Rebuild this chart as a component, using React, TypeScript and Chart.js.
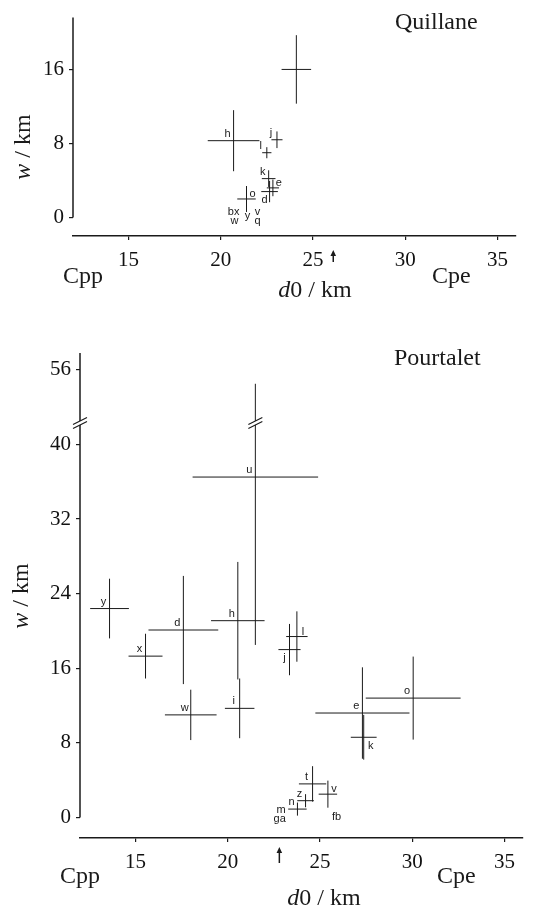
import React, { useEffect, useRef } from 'react';
import { Chart, registerables } from 'chart.js';

Chart.register(...registerables);

// ---------- shared axis data ----------
const X_TICKS = [15, 20, 25, 30, 35];
const X_MIN = 12;
const X_MAX = 36;

// ---------- Quillane ----------
const Q_NAMES = ['', 'h', 'j', 'l', 'k', 'e', 'd', 'o'];
const Q_D0 = [24.1, 20.7, 23.05, 22.5, 22.6, 22.83, 22.65, 21.4];
const Q_D0_ERR = [0.8, 1.4, 0.3, 0.25, 0.37, 0.33, 0.45, 0.5];
const Q_W = [16.0, 8.3, 8.4, 7.0, 4.2, 3.2, 2.8, 2.0];
const Q_W_ERR = [3.7, 3.3, 0.9, 0.6, 0.9, 0.9, 1.15, 1.4];
const Q_ANCHOR = ['nw', 'nw', 'nw', 'nw', 'nw', 'ne', 'sw', 'ne'];
const Q_ZERO_NAMES = ['bx', 'w', 'y', 'v', 'q'];
const Q_ZERO_D0 = [20.7, 20.75, 21.45, 22.0, 22.0];
const Q_ZERO_W = [0.55, -0.4, 0.2, 0.55, -0.4];
const Q_W_TICKS = [0, 8, 16];
const Q_ARROW_D0 = 26.1;

// ---------- Pourtalet ----------
const P_NAMES = ['y', 'x', 'd', 'w', 'h', 'i', 'u', 'j', 'l', 'e', 'k', 'o', 't', 'v', 'z', 'n'];
const P_D0 = [13.6, 15.55, 17.6, 18.0, 20.55, 20.65, 21.5, 23.35, 23.75, 27.3, 27.37, 30.05, 24.6, 25.43, 24.22, 23.78];
const P_D0_ERR = [1.05, 0.92, 1.89, 1.4, 1.45, 0.8, 3.4, 0.6, 0.58, 2.55, 0.7, 2.57, 0.74, 0.5, 0.45, 0.5];
const P_W = [22.4, 17.3, 20.1, 11.0, 21.1, 11.7, 36.5, 18.0, 19.4, 11.2, 8.6, 12.8, 3.6, 2.5, 1.8, 0.9];
const P_W_ERR = [3.2, 2.4, 5.8, 2.7, 6.3, 3.2, 18.0, 2.75, 2.7, 4.9, 2.4, 4.45, 1.9, 1.45, 0.7, 0.7];
const P_ANCHOR = ['nw', 'nw', 'nw', 'nw', 'nw', 'nw', 'nw', 'sw', 'ne', 'nw', 'se', 'nw', 'nw', 'ne', 'nw', 'nw'];
const P_ZERO_NAMES = ['m', 'ga', 'fb'];
const P_ZERO_D0 = [22.9, 22.82, 25.9];
const P_ZERO_W = [0.8, -0.15, 0.1];
const P_W_TICKS = [0, 8, 16, 24, 32, 40, 56];
const P_BREAK_AT = 42.3;
const P_BREAK_SKIP = 8;
const P_ARROW_D0 = 22.8;

const SERIF = '"Liberation Serif", "DejaVu Serif", serif';
const SANS = '"Liberation Sans", "DejaVu Sans", sans-serif';
const INK = '#1a1a1a';

const ANCHOR_OFFSETS: Record<string, [number, number]> = {
  nw: [-6, -7],
  ne: [6, -5],
  sw: [-5, 8],
  se: [7, 9],
};

type Panel = {
  width: number;
  height: number;
  padTop: number;
  padRight: number;
  yAxisWidth: number;
  xAxisHeight: number;
  yMin: number;
  yMax: number;
  names: string[];
  d0: number[];
  d0Err: number[];
  w: number[];
  wErr: number[];
  anchors: string[];
  zeroNames: string[];
  zeroD0: number[];
  zeroW: number[];
  wTicks: number[];
  arrowD0: number;
  arrowTip: number;
  arrowBase: number;
  title: string;
  titleX: number;
  titleY: number;
  cppX: number;
  cpeX: number;
  cpY: number;
  d0TitleX: number;
  d0TitleY: number;
  wTitleX: number;
  wTitleY: number;
  breakAt?: number;
  breakSkip?: number;
};

function drawMixed(ctx: CanvasRenderingContext2D, parts: [string, boolean][], x: number, y: number, size: number) {
  let total = 0;
  const widths: number[] = [];
  for (const [t, it] of parts) {
    ctx.font = `${it ? 'italic ' : ''}${size}px ${SERIF}`;
    const m = ctx.measureText(t).width;
    widths.push(m);
    total += m;
  }
  let cx = x - total / 2;
  ctx.textAlign = 'left';
  parts.forEach(([t, it], i) => {
    ctx.font = `${it ? 'italic ' : ''}${size}px ${SERIF}`;
    ctx.fillText(t, cx, y);
    cx += widths[i];
  });
}

function buildChart(canvas: HTMLCanvasElement, p: Panel) {
  const tf = (v: number) => (p.breakAt !== undefined && v > p.breakAt ? v - (p.breakSkip || 0) : v);
  const inv = (v: number) => (p.breakAt !== undefined && v > p.breakAt ? v + (p.breakSkip || 0) : v);

  const datasets: any[] = [];
  p.names.forEach((_, i) => {
    const base = {
      showLine: true,
      pointRadius: 0,
      pointHoverRadius: 0,
      borderColor: INK,
      borderWidth: 1,
      fill: false,
    };
    datasets.push({
      ...base,
      data: [
        { x: p.d0[i] - p.d0Err[i], y: tf(p.w[i]) },
        { x: p.d0[i] + p.d0Err[i], y: tf(p.w[i]) },
      ],
    });
    datasets.push({
      ...base,
      data: [
        { x: p.d0[i], y: tf(p.w[i] - p.wErr[i]) },
        { x: p.d0[i], y: tf(p.w[i] + p.wErr[i]) },
      ],
    });
  });

  const decor = {
    id: 'decor',
    afterDraw(chart: any) {
      const ctx: CanvasRenderingContext2D = chart.ctx;
      const ca = chart.chartArea;
      const xs = chart.scales.x;
      const ys = chart.scales.y;
      ctx.save();
      ctx.strokeStyle = INK;
      ctx.fillStyle = INK;

      // y axis line from 0 upward
      ctx.lineWidth = 1.5;
      ctx.beginPath();
      ctx.moveTo(ca.left, ys.getPixelForValue(0));
      ctx.lineTo(ca.left, ca.top);
      ctx.stroke();

      // axis breaks
      if (p.breakAt !== undefined) {
        const by = ys.getPixelForValue(p.breakAt);
        const drawBreak = (bx: number) => {
          ctx.save();
          ctx.fillStyle = '#ffffff';
          ctx.fillRect(bx - 3, by - 2, 6, 4);
          ctx.strokeStyle = INK;
          ctx.lineWidth = 1.2;
          ctx.beginPath();
          ctx.moveTo(bx - 7, by - 2 + 3.5);
          ctx.lineTo(bx + 7, by - 2 - 3.5);
          ctx.moveTo(bx - 7, by + 2 + 3.5);
          ctx.lineTo(bx + 7, by + 2 - 3.5);
          ctx.stroke();
          ctx.restore();
        };
        drawBreak(ca.left);
        p.names.forEach((_, i) => {
          const lo = p.w[i] - p.wErr[i];
          const hi = p.w[i] + p.wErr[i];
          if (lo < p.breakAt! && hi > p.breakAt!) drawBreak(xs.getPixelForValue(p.d0[i]));
        });
      }

      // point labels
      ctx.font = `11px ${SANS}`;
      ctx.textAlign = 'center';
      ctx.textBaseline = 'middle';
      p.names.forEach((n, i) => {
        if (!n) return;
        const [dx, dy] = ANCHOR_OFFSETS[p.anchors[i]] || ANCHOR_OFFSETS.nw;
        ctx.fillText(n, xs.getPixelForValue(p.d0[i]) + dx, ys.getPixelForValue(tf(p.w[i])) + dy);
      });
      p.zeroNames.forEach((n, i) => {
        ctx.fillText(n, xs.getPixelForValue(p.zeroD0[i]), ys.getPixelForValue(p.zeroW[i]));
      });

      // arrow
      const ax = xs.getPixelForValue(p.arrowD0);
      ctx.lineWidth = 1.5;
      ctx.beginPath();
      ctx.moveTo(ax, p.arrowBase);
      ctx.lineTo(ax, p.arrowTip + 4);
      ctx.stroke();
      ctx.beginPath();
      ctx.moveTo(ax, p.arrowTip);
      ctx.lineTo(ax - 2.8, p.arrowTip + 6);
      ctx.lineTo(ax + 2.8, p.arrowTip + 6);
      ctx.closePath();
      ctx.fill();

      // texts
      ctx.textBaseline = 'alphabetic';
      ctx.textAlign = 'left';
      ctx.font = `24px ${SERIF}`;
      ctx.fillText(p.title, p.titleX, p.titleY);
      ctx.fillText('Cpp', p.cppX, p.cpY);
      ctx.fillText('Cpe', p.cpeX, p.cpY);
      drawMixed(ctx, [['d', true], ['0 / km', false]], p.d0TitleX, p.d0TitleY, 24);
      ctx.save();
      ctx.translate(p.wTitleX, p.wTitleY);
      ctx.rotate(-Math.PI / 2);
      ctx.textBaseline = 'middle';
      drawMixed(ctx, [['w', true], [' / km', false]], 0, 0, 24);
      ctx.restore();

      ctx.restore();
    },
  };

  return new Chart(canvas, {
    type: 'scatter',
    data: { datasets },
    options: {
      animation: false,
      responsive: false,
      maintainAspectRatio: false,
      devicePixelRatio: 1,
      events: [],
      layout: { padding: { top: p.padTop, right: p.padRight, left: 0, bottom: 0 } },
      plugins: { legend: { display: false }, tooltip: { enabled: false }, title: { display: false } },
      scales: {
        x: {
          type: 'linear',
          position: 'bottom',
          min: X_MIN,
          max: X_MAX,
          afterBuildTicks: (s: any) => {
            s.ticks = X_TICKS.map((v) => ({ value: v }));
          },
          afterFit: (s: any) => {
            s.height = p.xAxisHeight;
          },
          border: { display: true, color: INK, width: 1.5 },
          grid: { display: true, drawOnChartArea: false, drawTicks: true, tickLength: 4, color: INK, lineWidth: 1.2 },
          ticks: {
            color: '#111',
            padding: 8,
            maxRotation: 0,
            autoSkip: false,
            font: { family: SERIF, size: 21 },
            callback: (v: any) => String(v),
          },
        },
        y: {
          type: 'linear',
          min: p.yMin,
          max: p.yMax,
          afterBuildTicks: (s: any) => {
            s.ticks = p.wTicks.map((v) => ({ value: tf(v) }));
          },
          afterFit: (s: any) => {
            s.width = p.yAxisWidth;
          },
          border: { display: false },
          grid: { display: true, drawOnChartArea: false, drawTicks: true, tickLength: 4, color: INK, lineWidth: 1.2 },
          ticks: {
            color: '#111',
            padding: 5,
            autoSkip: false,
            font: { family: SERIF, size: 21 },
            callback: (v: any) => String(Math.round(inv(Number(v)))),
          },
        },
      },
    },
    plugins: [decor],
  } as any);
}

const QUILLANE: Panel = {
  width: 533,
  height: 320,
  padTop: 13,
  padRight: 17,
  yAxisWidth: 73,
  xAxisHeight: 84,
  yMin: -2.0,
  yMax: 21.6,
  names: Q_NAMES,
  d0: Q_D0,
  d0Err: Q_D0_ERR,
  w: Q_W,
  wErr: Q_W_ERR,
  anchors: Q_ANCHOR,
  zeroNames: Q_ZERO_NAMES,
  zeroD0: Q_ZERO_D0,
  zeroW: Q_ZERO_W,
  wTicks: Q_W_TICKS,
  arrowD0: Q_ARROW_D0,
  arrowTip: 250,
  arrowBase: 262,
  title: 'Quillane',
  titleX: 395,
  titleY: 29,
  cppX: 63,
  cpeX: 432,
  cpY: 283,
  d0TitleX: 315,
  d0TitleY: 297,
  wTitleX: 24,
  wTitleY: 147,
};

const POURTALET: Panel = {
  width: 533,
  height: 590,
  padTop: 33,
  padRight: 10,
  yAxisWidth: 80,
  xAxisHeight: 72,
  yMin: -2.2,
  yMax: 49.8,
  names: P_NAMES,
  d0: P_D0,
  d0Err: P_D0_ERR,
  w: P_W,
  wErr: P_W_ERR,
  anchors: P_ANCHOR,
  zeroNames: P_ZERO_NAMES,
  zeroD0: P_ZERO_D0,
  zeroW: P_ZERO_W,
  wTicks: P_W_TICKS,
  arrowD0: P_ARROW_D0,
  arrowTip: 527,
  arrowBase: 543,
  title: 'Pourtalet',
  titleX: 394,
  titleY: 45,
  cppX: 60,
  cpeX: 437,
  cpY: 563,
  d0TitleX: 324,
  d0TitleY: 585,
  wTitleX: 22,
  wTitleY: 276,
  breakAt: P_BREAK_AT,
  breakSkip: P_BREAK_SKIP,
};

function Panel({ cfg, top }: { cfg: Panel; top: number }) {
  const ref = useRef<HTMLCanvasElement | null>(null);
  useEffect(() => {
    if (!ref.current) return;
    const chart = buildChart(ref.current, cfg);
    return () => chart.destroy();
  }, [cfg]);
  return (
    <canvas
      ref={ref}
      width={cfg.width}
      height={cfg.height}
      style={{ position: 'absolute', left: 0, top, width: cfg.width, height: cfg.height, display: 'block' }}
    />
  );
}

export default function App() {
  return (
    <div style={{ position: 'absolute', left: 0, top: 0, width: 533, height: 910, background: '#ffffff' }}>
      <Panel cfg={QUILLANE} top={0} />
      <Panel cfg={POURTALET} top={320} />
    </div>
  );
}
